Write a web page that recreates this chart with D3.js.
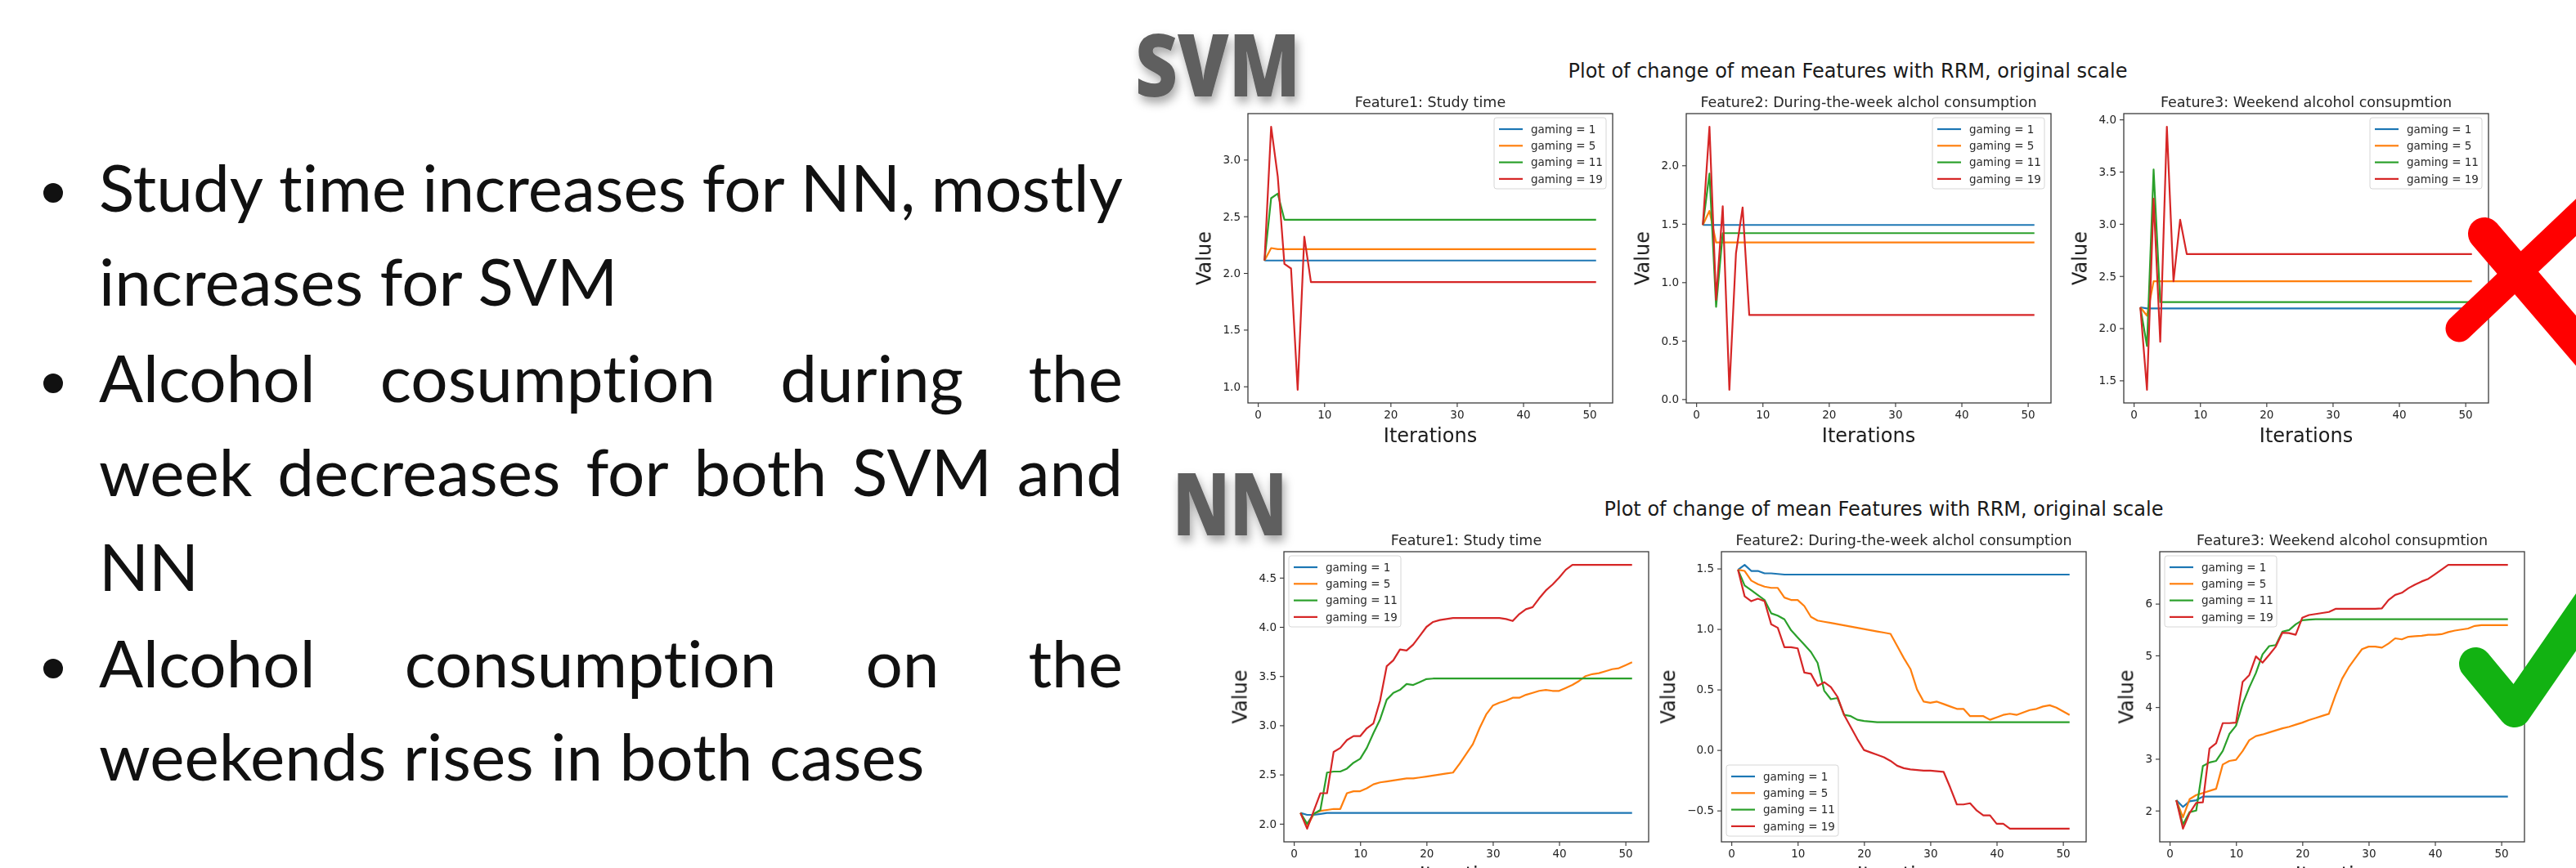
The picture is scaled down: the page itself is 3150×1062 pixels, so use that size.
<!DOCTYPE html>
<html>
<head>
<meta charset="utf-8">
<script src="https://cdn.jsdelivr.net/npm/d3@7"></script>
<style>
  body { margin: 0; background: #fff; }
</style>
</head>
<body>
<div id="slide"></div>
<script>
// ---- data ----
const iterations = d3.range(1, 52);
const seriesNames = ["gaming = 1", "gaming = 5", "gaming = 11", "gaming = 19"];
const seriesColors = ["#1f77b4", "#ff7f0e", "#2ca02c", "#d62728"];

// SVM, Feature1: Study time
const svmStudyG1 = [2.11,2.11,2.11,2.11,2.11,2.11,2.11,2.11,2.11,2.11,
  2.11,2.11,2.11,2.11,2.11,2.11,2.11,2.11,2.11,2.11,
  2.11,2.11,2.11,2.11,2.11,2.11,2.11,2.11,2.11,2.11,
  2.11,2.11,2.11,2.11,2.11,2.11,2.11,2.11,2.11,2.11,
  2.11,2.11,2.11,2.11,2.11,2.11,2.11,2.11,2.11,2.11,2.11];
const svmStudyG5 = [2.11,2.22,2.21,2.21,2.21,2.21,2.21,2.21,2.21,2.21,
  2.21,2.21,2.21,2.21,2.21,2.21,2.21,2.21,2.21,2.21,
  2.21,2.21,2.21,2.21,2.21,2.21,2.21,2.21,2.21,2.21,
  2.21,2.21,2.21,2.21,2.21,2.21,2.21,2.21,2.21,2.21,
  2.21,2.21,2.21,2.21,2.21,2.21,2.21,2.21,2.21,2.21,2.21];
const svmStudyG11 = [2.11,2.66,2.70,2.47,2.47,2.47,2.47,2.47,2.47,2.47,
  2.47,2.47,2.47,2.47,2.47,2.47,2.47,2.47,2.47,2.47,
  2.47,2.47,2.47,2.47,2.47,2.47,2.47,2.47,2.47,2.47,
  2.47,2.47,2.47,2.47,2.47,2.47,2.47,2.47,2.47,2.47,
  2.47,2.47,2.47,2.47,2.47,2.47,2.47,2.47,2.47,2.47,2.47];
const svmStudyG19 = [2.11,3.29,2.85,2.08,2.04,0.97,2.32,1.92,1.92,1.92,
  1.92,1.92,1.92,1.92,1.92,1.92,1.92,1.92,1.92,1.92,
  1.92,1.92,1.92,1.92,1.92,1.92,1.92,1.92,1.92,1.92,
  1.92,1.92,1.92,1.92,1.92,1.92,1.92,1.92,1.92,1.92,
  1.92,1.92,1.92,1.92,1.92,1.92,1.92,1.92,1.92,1.92,1.92];

// SVM, Feature2: During-the-week alcohol consumption
const svmWeekG1 = [1.49,1.49,1.49,1.49,1.49,1.49,1.49,1.49,1.49,1.49,
  1.49,1.49,1.49,1.49,1.49,1.49,1.49,1.49,1.49,1.49,
  1.49,1.49,1.49,1.49,1.49,1.49,1.49,1.49,1.49,1.49,
  1.49,1.49,1.49,1.49,1.49,1.49,1.49,1.49,1.49,1.49,
  1.49,1.49,1.49,1.49,1.49,1.49,1.49,1.49,1.49,1.49,1.49];
const svmWeekG5 = [1.49,1.61,1.34,1.34,1.34,1.34,1.34,1.34,1.34,1.34,
  1.34,1.34,1.34,1.34,1.34,1.34,1.34,1.34,1.34,1.34,
  1.34,1.34,1.34,1.34,1.34,1.34,1.34,1.34,1.34,1.34,
  1.34,1.34,1.34,1.34,1.34,1.34,1.34,1.34,1.34,1.34,
  1.34,1.34,1.34,1.34,1.34,1.34,1.34,1.34,1.34,1.34,1.34];
const svmWeekG11 = [1.49,1.93,0.79,1.42,1.42,1.42,1.42,1.42,1.42,1.42,
  1.42,1.42,1.42,1.42,1.42,1.42,1.42,1.42,1.42,1.42,
  1.42,1.42,1.42,1.42,1.42,1.42,1.42,1.42,1.42,1.42,
  1.42,1.42,1.42,1.42,1.42,1.42,1.42,1.42,1.42,1.42,
  1.42,1.42,1.42,1.42,1.42,1.42,1.42,1.42,1.42,1.42,1.42];
const svmWeekG19 = [1.49,2.33,0.85,1.65,0.08,1.25,1.64,0.72,0.72,0.72,
  0.72,0.72,0.72,0.72,0.72,0.72,0.72,0.72,0.72,0.72,
  0.72,0.72,0.72,0.72,0.72,0.72,0.72,0.72,0.72,0.72,
  0.72,0.72,0.72,0.72,0.72,0.72,0.72,0.72,0.72,0.72,
  0.72,0.72,0.72,0.72,0.72,0.72,0.72,0.72,0.72,0.72,0.72];

// SVM, Feature3: Weekend alcohol consumption
const svmWeekendG1 = [2.20,2.19,2.19,2.19,2.19,2.19,2.19,2.19,2.19,2.19,
  2.19,2.19,2.19,2.19,2.19,2.19,2.19,2.19,2.19,2.19,
  2.19,2.19,2.19,2.19,2.19,2.19,2.19,2.19,2.19,2.19,
  2.19,2.19,2.19,2.19,2.19,2.19,2.19,2.19,2.19,2.19,
  2.19,2.19,2.19,2.19,2.19,2.19,2.19,2.19,2.19,2.19,2.19];
const svmWeekendG5 = [2.20,2.12,2.45,2.45,2.45,2.45,2.45,2.45,2.45,2.45,
  2.45,2.45,2.45,2.45,2.45,2.45,2.45,2.45,2.45,2.45,
  2.45,2.45,2.45,2.45,2.45,2.45,2.45,2.45,2.45,2.45,
  2.45,2.45,2.45,2.45,2.45,2.45,2.45,2.45,2.45,2.45,
  2.45,2.45,2.45,2.45,2.45,2.45,2.45,2.45,2.45,2.45,2.45];
const svmWeekendG11 = [2.20,1.83,3.52,2.25,2.25,2.25,2.25,2.25,2.25,2.25,
  2.25,2.25,2.25,2.25,2.25,2.25,2.25,2.25,2.25,2.25,
  2.25,2.25,2.25,2.25,2.25,2.25,2.25,2.25,2.25,2.25,
  2.25,2.25,2.25,2.25,2.25,2.25,2.25,2.25,2.25,2.25,
  2.25,2.25,2.25,2.25,2.25,2.25,2.25,2.25,2.25,2.25,2.25];
const svmWeekendG19 = [2.20,1.41,3.24,1.87,3.93,2.45,3.04,2.71,2.71,2.71,
  2.71,2.71,2.71,2.71,2.71,2.71,2.71,2.71,2.71,2.71,
  2.71,2.71,2.71,2.71,2.71,2.71,2.71,2.71,2.71,2.71,
  2.71,2.71,2.71,2.71,2.71,2.71,2.71,2.71,2.71,2.71,
  2.71,2.71,2.71,2.71,2.71,2.71,2.71,2.71,2.71,2.71,2.71];

// NN, Feature1: Study time
const nnStudyG1 = [2.11,2.09,2.09,2.10,2.11,2.11,2.11,2.11,2.11,2.11,
  2.11,2.11,2.11,2.11,2.11,2.11,2.11,2.11,2.11,2.11,
  2.11,2.11,2.11,2.11,2.11,2.11,2.11,2.11,2.11,2.11,
  2.11,2.11,2.11,2.11,2.11,2.11,2.11,2.11,2.11,2.11,
  2.11,2.11,2.11,2.11,2.11,2.11,2.11,2.11,2.11,2.11,2.11];
const nnStudyG5 = [2.11,1.97,2.10,2.13,2.14,2.15,2.15,2.31,2.33,2.33,
  2.36,2.40,2.42,2.43,2.44,2.45,2.46,2.46,2.47,2.48,
  2.49,2.50,2.51,2.52,2.61,2.71,2.81,2.97,3.11,3.20,
  3.23,3.25,3.28,3.28,3.31,3.33,3.35,3.36,3.35,3.35,
  3.38,3.41,3.45,3.50,3.52,3.53,3.55,3.57,3.58,3.61,3.64];
const nnStudyG11 = [2.11,2.00,2.10,2.14,2.52,2.53,2.53,2.56,2.62,2.66,
  2.77,2.92,3.06,3.26,3.33,3.36,3.42,3.41,3.44,3.47,
  3.475,3.475,3.475,3.475,3.475,3.475,3.475,3.475,3.475,3.475,
  3.475,3.475,3.475,3.475,3.475,3.475,3.475,3.475,3.475,3.475,
  3.475,3.475,3.475,3.475,3.475,3.475,3.475,3.475,3.475,3.475,3.475];
const nnStudyG19 = [2.11,1.95,2.13,2.31,2.31,2.73,2.77,2.85,2.89,2.89,
  2.97,3.02,3.25,3.60,3.66,3.77,3.76,3.82,3.91,4.00,
  4.05,4.07,4.08,4.09,4.09,4.09,4.09,4.09,4.09,4.09,
  4.09,4.08,4.06,4.13,4.18,4.20,4.29,4.37,4.43,4.50,
  4.58,4.63,4.63,4.63,4.63,4.63,4.63,4.63,4.63,4.63,4.63];

// NN, Feature2: During-the-week alcohol consumption
const nnWeekG1 = [1.49,1.53,1.48,1.48,1.46,1.46,1.455,1.45,1.45,1.45,
  1.45,1.45,1.45,1.45,1.45,1.45,1.45,1.45,1.45,1.45,
  1.45,1.45,1.45,1.45,1.45,1.45,1.45,1.45,1.45,1.45,
  1.45,1.45,1.45,1.45,1.45,1.45,1.45,1.45,1.45,1.45,
  1.45,1.45,1.45,1.45,1.45,1.45,1.45,1.45,1.45,1.45,1.45];
const nnWeekG5 = [1.49,1.48,1.40,1.37,1.35,1.34,1.34,1.26,1.24,1.24,
  1.19,1.10,1.07,1.06,1.05,1.04,1.03,1.02,1.01,1.00,
  0.99,0.98,0.97,0.96,0.86,0.76,0.67,0.50,0.40,0.39,
  0.40,0.38,0.36,0.34,0.34,0.28,0.28,0.28,0.25,0.27,
  0.29,0.30,0.29,0.31,0.33,0.34,0.36,0.37,0.35,0.32,0.29];
const nnWeekG11 = [1.49,1.36,1.32,1.28,1.24,1.13,1.11,1.08,0.99,0.93,
  0.87,0.81,0.72,0.49,0.42,0.43,0.29,0.28,0.25,0.24,
  0.235,0.23,0.23,0.23,0.23,0.23,0.23,0.23,0.23,0.23,
  0.23,0.23,0.23,0.23,0.23,0.23,0.23,0.23,0.23,0.23,
  0.23,0.23,0.23,0.23,0.23,0.23,0.23,0.23,0.23,0.23,0.23];
const nnWeekG19 = [1.49,1.27,1.23,1.25,1.23,1.04,1.01,0.85,0.85,0.84,
  0.64,0.63,0.53,0.56,0.52,0.44,0.29,0.19,0.09,0.00,
  -0.02,-0.04,-0.06,-0.09,-0.13,-0.15,-0.16,-0.165,-0.17,-0.17,
  -0.175,-0.18,-0.31,-0.45,-0.45,-0.44,-0.50,-0.54,-0.54,-0.61,
  -0.61,-0.65,-0.65,-0.65,-0.65,-0.65,-0.65,-0.65,-0.65,-0.65,-0.65];

// NN, Feature3: Weekend alcohol consumption
const nnWeekendG1 = [2.20,2.07,2.18,2.20,2.27,2.27,2.27,2.27,2.27,2.27,
  2.27,2.27,2.27,2.27,2.27,2.27,2.27,2.27,2.27,2.27,
  2.27,2.27,2.27,2.27,2.27,2.27,2.27,2.27,2.27,2.27,
  2.27,2.27,2.27,2.27,2.27,2.27,2.27,2.27,2.27,2.27,
  2.27,2.27,2.27,2.27,2.27,2.27,2.27,2.27,2.27,2.27,2.27];
const nnWeekendG5 = [2.20,1.87,2.22,2.30,2.34,2.38,2.42,2.89,2.96,2.98,
  3.15,3.36,3.44,3.47,3.51,3.55,3.59,3.62,3.66,3.70,
  3.75,3.79,3.83,3.87,4.23,4.55,4.77,4.95,5.12,5.17,
  5.17,5.15,5.23,5.33,5.31,5.36,5.37,5.38,5.40,5.40,
  5.41,5.45,5.48,5.50,5.52,5.57,5.585,5.585,5.585,5.585,5.585];
const nnWeekendG11 = [2.20,1.73,1.97,2.00,2.86,2.93,2.96,3.15,3.48,3.64,
  4.06,4.38,4.66,5.02,5.18,5.20,5.46,5.49,5.60,5.68,
  5.69,5.70,5.70,5.70,5.70,5.70,5.70,5.70,5.70,5.70,
  5.70,5.70,5.70,5.70,5.70,5.70,5.70,5.70,5.70,5.70,
  5.70,5.70,5.70,5.70,5.70,5.70,5.70,5.70,5.70,5.70,5.70];
const nnWeekendG19 = [2.20,1.65,1.95,2.15,2.16,3.20,3.30,3.69,3.69,3.70,
  4.49,4.62,4.98,4.86,5.01,5.17,5.44,5.43,5.40,5.73,
  5.78,5.80,5.82,5.84,5.90,5.90,5.90,5.90,5.90,5.90,
  5.90,5.91,6.07,6.17,6.21,6.30,6.37,6.43,6.48,6.57,
  6.66,6.75,6.75,6.75,6.75,6.75,6.75,6.75,6.75,6.75,6.75];

// tick labels
const xTicks = [0, 10, 20, 30, 40, 50];
const svmStudyTicks = [1.0, 1.5, 2.0, 2.5, 3.0];
const svmWeekTicks = [0.0, 0.5, 1.0, 1.5, 2.0];
const svmWeekendTicks = [1.5, 2.0, 2.5, 3.0, 3.5, 4.0];
const nnStudyTicks = [2.0, 2.5, 3.0, 3.5, 4.0, 4.5];
const nnWeekTicks = [-0.5, 0.0, 0.5, 1.0, 1.5];
const nnWeekendTicks = [2, 3, 4, 5, 6];

// texts
const rowTitle = "Plot of change of mean Features with RRM, original scale";
const rowNames = ["SVM", "NN"];
const panelTitles = ["Feature1: Study time", "Feature2: During-the-week alchol consumption", "Feature3: Weekend alcohol consupmtion"];
const bulletLines = [
  { text: "Study time increases for NN, mostly", bullet: true, justify: true },
  { text: "increases for SVM", bullet: false, justify: false },
  { text: "Alcohol cosumption during the", bullet: true, justify: true },
  { text: "week decreases for both SVM and", bullet: false, justify: true },
  { text: "NN", bullet: false, justify: false },
  { text: "Alcohol consumption on the", bullet: true, justify: true },
  { text: "weekends rises in both cases", bullet: false, justify: false }
];

// ---- layout ----
const W = 3150, H = 1062;
const plotW = 446;
const rows = [
  { top: 139, bottom: 493, lefts: [1526, 2062, 2597], nameX: 1388, nameY: 118, nameLen: 202 },
  { top: 675, bottom: 1030, lefts: [1570, 2105, 2641], nameX: 1434, nameY: 655, nameLen: 140 }
];
const panels = [
  { row: 0, col: 0, series: [svmStudyG1, svmStudyG5, svmStudyG11, svmStudyG19], ticks: svmStudyTicks, fmt: ".1f", legend: "ur" },
  { row: 0, col: 1, series: [svmWeekG1, svmWeekG5, svmWeekG11, svmWeekG19], ticks: svmWeekTicks, fmt: ".1f", legend: "ur" },
  { row: 0, col: 2, series: [svmWeekendG1, svmWeekendG5, svmWeekendG11, svmWeekendG19], ticks: svmWeekendTicks, fmt: ".1f", legend: "ur" },
  { row: 1, col: 0, series: [nnStudyG1, nnStudyG5, nnStudyG11, nnStudyG19], ticks: nnStudyTicks, fmt: ".1f", legend: "ul" },
  { row: 1, col: 1, series: [nnWeekG1, nnWeekG5, nnWeekG11, nnWeekG19], ticks: nnWeekTicks, fmt: ".1f", legend: "ll" },
  { row: 1, col: 2, series: [nnWeekendG1, nnWeekendG5, nnWeekendG11, nnWeekendG19], ticks: nnWeekendTicks, fmt: "d", legend: "ul" }
];
const chartFont = "'DejaVu Sans', sans-serif";
const textFont = "Lato, 'Open Sans', sans-serif";

const svg = d3.select("#slide").append("svg")
  .attr("width", W)
  .attr("height", H)
  .style("display", "block")
  .style("background", "#fff");

const defs = svg.append("defs");
defs.append("filter")
  .attr("id", "shadow")
  .attr("x", "-20%").attr("y", "-20%").attr("width", "140%").attr("height", "160%")
  .append("feDropShadow")
  .attr("dx", 3).attr("dy", 7).attr("stdDeviation", 6)
  .attr("flood-color", "#000").attr("flood-opacity", 0.35);
defs.append("filter")
  .attr("id", "soft")
  .append("feGaussianBlur").attr("stdDeviation", 0.6);

// ---- bullet text on the left ----
const textSize = 80;
const textX0 = 121, textX1 = 1373;
const baselines = [259, 374, 492, 607, 723, 841, 955];
const textG = svg.append("g")
  .style("font-family", textFont)
  .style("font-size", textSize + "px")
  .style("font-variant-ligatures", "none")
  .attr("fill", "#111");

bulletLines.forEach((line, i) => {
  const y = baselines[i];
  if (line.bullet) {
    textG.append("circle").attr("cx", 65).attr("cy", y - 23).attr("r", 12).attr("fill", "#111");
  }
  const words = line.text.split(" ");
  if (!line.justify) {
    textG.append("text").attr("x", textX0).attr("y", y).text(line.text);
    return;
  }
  const nodes = words.map(w => textG.append("text").attr("y", y).text(w));
  const widths = nodes.map(n => n.node().getComputedTextLength());
  const gap = (textX1 - textX0 - d3.sum(widths)) / (words.length - 1);
  let x = textX0;
  nodes.forEach((n, k) => {
    n.attr("x", x);
    x += widths[k] + gap;
  });
});

// ---- big row labels ----
rows.forEach((r, i) => {
  svg.append("text")
    .attr("x", r.nameX)
    .attr("y", r.nameY)
    .attr("textLength", r.nameLen)
    .attr("lengthAdjust", "spacingAndGlyphs")
    .attr("fill", "#5f5f5f")
    .attr("filter", "url(#shadow)")
    .style("font-family", "'Open Sans', sans-serif")
    .style("font-weight", 800)
    .style("font-size", "106px")
    .text(rowNames[i]);

  // figure suptitle
  const spanCenter = (r.lefts[0] + r.lefts[2] + plotW) / 2;
  svg.append("text")
    .attr("x", spanCenter - 25)
    .attr("y", r.top - 44)
    .attr("text-anchor", "middle")
    .attr("fill", "#1a1a1a")
    .style("font-family", chartFont)
    .style("font-size", "24px")
    .text(rowTitle);
});

// ---- the six small line charts ----
const x = d3.scaleLinear()
  .domain([iterations[0] - 2.5, iterations[iterations.length - 1] + 2.5]);

panels.forEach(p => {
  const r = rows[p.row];
  const left = r.lefts[p.col];
  const top = r.top, bottom = r.bottom;
  const g = svg.append("g").attr("filter", "url(#soft)");

  const xs = x.copy().range([left, left + plotW]);
  const all = p.series.flat();
  const lo = d3.min(all), hi = d3.max(all);
  const pad = (hi - lo) * 0.05;
  const y = d3.scaleLinear().domain([lo - pad, hi + pad]).range([bottom, top]);

  const line = d3.line()
    .x((d, i) => xs(iterations[i]))
    .y(d => y(d));

  g.append("g")
    .selectAll("path")
    .data(p.series)
    .join("path")
    .attr("fill", "none")
    .attr("stroke", (d, i) => seriesColors[i])
    .attr("stroke-width", 2.2)
    .attr("stroke-linejoin", "round")
    .attr("d", line);

  // axes
  const xAxis = g.append("g")
    .attr("transform", `translate(0,${bottom})`)
    .call(d3.axisBottom(xs).tickValues(xTicks).tickSize(5).tickPadding(4).tickSizeOuter(0));
  const yAxis = g.append("g")
    .attr("transform", `translate(${left},0)`)
    .call(d3.axisLeft(y).tickValues(p.ticks).tickFormat(d3.format(p.fmt)).tickSize(5).tickPadding(4).tickSizeOuter(0));
  [xAxis, yAxis].forEach(a => {
    a.select(".domain").remove();
    a.selectAll("line").attr("stroke", "#333").attr("stroke-width", 1.1);
    a.selectAll("text")
      .attr("fill", "#222")
      .style("font-family", chartFont)
      .style("font-size", "13.5px");
  });

  // frame
  g.append("rect")
    .attr("x", left).attr("y", top)
    .attr("width", plotW).attr("height", bottom - top)
    .attr("fill", "none")
    .attr("stroke", "#3a3a3a")
    .attr("stroke-width", 1.3);

  // panel title
  g.append("text")
    .attr("x", left + plotW / 2)
    .attr("y", top - 8)
    .attr("text-anchor", "middle")
    .attr("fill", "#262626")
    .style("font-family", chartFont)
    .style("font-size", "17.5px")
    .text(panelTitles[p.col]);

  // axis labels
  g.append("text")
    .attr("x", left + plotW / 2)
    .attr("y", bottom + 48)
    .attr("text-anchor", "middle")
    .attr("fill", "#1a1a1a")
    .style("font-family", chartFont)
    .style("font-size", "24px")
    .text("Iterations");

  const tickW = yAxis.node().getBBox().width;
  g.append("text")
    .attr("transform", `translate(${left - tickW - 23},${(top + bottom) / 2}) rotate(-90)`)
    .attr("dy", "0.35em")
    .attr("text-anchor", "middle")
    .attr("fill", "#1a1a1a")
    .style("font-family", chartFont)
    .style("font-size", "24px")
    .text("Value");

  // legend
  const lw = 137, lh = 87;
  const lx = p.legend === "ur" ? left + plotW - lw - 8 : left + 6;
  const ly = p.legend === "ll" ? bottom - lh - 7 : top + 5;
  const lg = g.append("g").attr("transform", `translate(${lx},${ly})`);
  lg.append("rect")
    .attr("width", lw).attr("height", lh).attr("rx", 3)
    .attr("fill", "#fff").attr("fill-opacity", 0.85)
    .attr("stroke", "#d6d6d6");
  const items = lg.selectAll("g.item")
    .data(seriesNames)
    .join("g")
    .attr("class", "item")
    .attr("transform", (d, i) => `translate(0,${14 + i * 20.3})`);
  items.append("line")
    .attr("x1", 6).attr("x2", 35)
    .attr("stroke", (d, i) => seriesColors[i])
    .attr("stroke-width", 2.2);
  items.append("text")
    .attr("x", 45)
    .attr("dy", "0.35em")
    .attr("fill", "#2a2a2a")
    .style("font-family", chartFont)
    .style("font-size", "13.5px")
    .text(d => d);
});

// ---- verdict marks ----
const crossPos = { x: 3079, y: 334 };
svg.append("path")
  .attr("d", `M${crossPos.x - 41},${crossPos.y - 48} L${crossPos.x + 90},${crossPos.y + 105}`)
  .attr("stroke", "#ff0000").attr("stroke-width", 40).attr("stroke-linecap", "round");
svg.append("path")
  .attr("d", `M${crossPos.x - 72},${crossPos.y + 68} L${crossPos.x + 90},${crossPos.y - 86}`)
  .attr("stroke", "#ff0000").attr("stroke-width", 33).attr("stroke-linecap", "round");

const tickPos = { x: 3075, y: 870 };
svg.append("path")
  .attr("d", `M${tickPos.x - 48},${tickPos.y - 58} L${tickPos.x},${tickPos.y} L${tickPos.x + 100},${tickPos.y - 145}`)
  .attr("fill", "none")
  .attr("stroke", "#12b212").attr("stroke-width", 40)
  .attr("stroke-linecap", "round").attr("stroke-linejoin", "round");
</script>
</body>
</html>
